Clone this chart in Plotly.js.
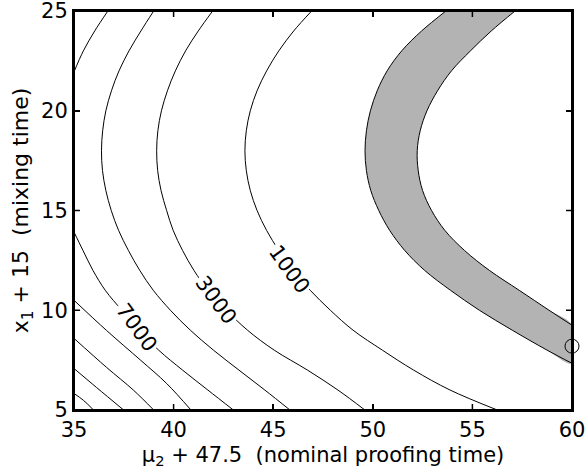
<!DOCTYPE html>
<html>
<head>
<meta charset="utf-8">
<script src="https://cdn.plot.ly/plotly-3.0.1.min.js"></script>
<style>
  html, body { margin: 0; padding: 0; background: #ffffff; }
  #chart { width: 586px; height: 475px; }
</style>
</head>
<body>
<div id="chart"></div>
<script>
// ---- data ----
const xTicks = [35, 40, 45, 50, 55, 60];
const yTicks = [5, 10, 15, 20, 25];
const xRange = [35, 60];
const yRange = [5, 25];

// gray band: left (outer) and right (inner) boundaries
const bandOutY = [25, 24, 23, 22, 21, 20, 19, 18, 17, 16, 15, 14, 13, 12, 11, 10, 9, 8, 7.34];
const bandOutX = [53.67, 52.45, 51.45, 50.72, 50.22, 49.88, 49.68, 49.61, 49.68, 49.90, 50.30, 50.85, 51.60, 52.60, 53.90, 55.35, 57.00, 58.75, 60.0];
const bandInY = [25, 24, 23, 22, 21, 20, 19, 18, 17, 16, 15, 14, 13, 12, 11, 10, 9.25];
const bandInX = [57.14, 55.95, 54.90, 53.95, 53.25, 52.72, 52.38, 52.23, 52.28, 52.50, 52.95, 53.62, 54.60, 55.85, 57.35, 58.85, 60.0];

// contour lines
const c1000Y = [25, 24, 23, 22, 21, 20, 19, 18, 17, 16, 15, 14, 13, 12, 11, 10, 9, 8, 7, 6, 5];
const c1000X = [46.93, 46.03, 45.28, 44.67, 44.19, 43.85, 43.65, 43.58, 43.65, 43.85, 44.19, 44.67, 45.28, 46.01, 46.86, 47.87, 49.01, 50.48, 52.05, 53.88, 56.25];
const c3000Y = [25, 24, 23, 22, 21, 20, 19, 18, 17, 16, 15, 14, 13, 12, 11, 10, 9, 8, 7, 6, 5];
const c3000X = [41.96, 41.24, 40.60, 40.09, 39.69, 39.39, 39.21, 39.15, 39.20, 39.37, 39.65, 39.98, 40.45, 41.02, 41.73, 42.65, 43.71, 45.05, 46.72, 48.25, 49.60];
const c5000Y = [25, 24, 23, 22, 21, 20, 19, 18, 17, 16, 15, 14, 13, 12, 11, 10, 9, 8, 7, 6, 5];
const c5000X = [39.00, 38.36, 37.76, 37.26, 36.88, 36.60, 36.44, 36.38, 36.43, 36.60, 36.87, 37.24, 37.73, 38.30, 38.98, 39.84, 40.84, 42.00, 43.28, 44.58, 45.84];
const c7000UpY = [21.95, 23, 24, 25];
const c7000UpX = [35.00, 35.47, 36.04, 36.70];
const c7000LoY = [13.92, 13, 12, 11, 10, 9, 8, 7, 6, 5];
const c7000LoX = [35.00, 35.45, 35.95, 36.57, 37.40, 38.27, 39.25, 40.45, 41.72, 43.00];
const c9000Y = [10.50, 8.99, 7.49, 6.33, 5.0];
const c9000X = [35.00, 36.63, 38.35, 39.65, 40.87];
const c11000Y = [8.59, 7.14, 5.99, 5.0];
const c11000X = [35.00, 36.63, 37.99, 39.00];
const c13000Y = [7.08, 6.13, 5.0];
const c13000X = [35.00, 36.13, 37.49];
const c15000Y = [5.83, 5.48, 5.0];
const c15000X = [35.00, 35.48, 35.98];

// marked point
const pointX = [60.0];
const pointY = [8.2];

// contour labels
const labelText = ['1000', '3000', '7000'];
const labelX = [45.80, 42.12, 38.12];
const labelY = [12.08, 10.5, 9.15];

// ---- build chart ----
const FONT = 'DejaVu Sans';
const W = 586, H = 475;
const M = { l: 74, r: 14, t: 11, b: 65 };
const TL = 6; // tick length in pixels
const lineStyle = { color: '#000000', width: 1, shape: 'spline', smoothing: 1 };

function contourTrace(xs, ys) {
  return { x: xs, y: ys, type: 'scatter', mode: 'lines', line: lineStyle, hoverinfo: 'skip', showlegend: false };
}

// frame and inward ticks on all four sides, drawn as line traces
const dX = TL * (xRange[1] - xRange[0]) / (W - M.l - M.r);
const dY = TL * (yRange[1] - yRange[0]) / (H - M.t - M.b);
const frameX = [xRange[0], xRange[1], xRange[1], xRange[0], xRange[0]];
const frameY = [yRange[1], yRange[1], yRange[0], yRange[0], yRange[1]];
const tickX = [], tickY = [];
xTicks.forEach(v => {
  tickX.push(v, v, null, v, v, null);
  tickY.push(yRange[0], yRange[0] + dY, null, yRange[1], yRange[1] - dY, null);
});
yTicks.forEach(v => {
  tickX.push(xRange[0], xRange[0] + dX, null, xRange[1], xRange[1] - dX, null);
  tickY.push(v, v, null, v, v, null);
});

const traces = [
  {
    x: bandOutX.concat(bandInX.slice().reverse()),
    y: bandOutY.concat(bandInY.slice().reverse()),
    type: 'scatter', mode: 'lines', fill: 'toself', fillcolor: '#b3b3b3',
    line: { color: 'rgba(0,0,0,0)', width: 0, shape: 'spline', smoothing: 1 },
    hoverinfo: 'skip', showlegend: false
  },
  contourTrace(bandOutX, bandOutY),
  contourTrace(bandInX, bandInY),
  contourTrace(c1000X, c1000Y),
  contourTrace(c3000X, c3000Y),
  contourTrace(c5000X, c5000Y),
  contourTrace(c7000UpX, c7000UpY),
  contourTrace(c7000LoX, c7000LoY),
  contourTrace(c9000X, c9000Y),
  contourTrace(c11000X, c11000Y),
  contourTrace(c13000X, c13000Y),
  contourTrace(c15000X, c15000Y),
  {
    x: frameX, y: frameY, type: 'scatter', mode: 'lines',
    line: { color: '#000000', width: 2 }, cliponaxis: false,
    hoverinfo: 'skip', showlegend: false
  },
  {
    x: tickX, y: tickY, type: 'scatter', mode: 'lines', connectgaps: false,
    line: { color: '#000000', width: 1.5 }, cliponaxis: false,
    hoverinfo: 'skip', showlegend: false
  },
  {
    x: pointX, y: pointY, type: 'scatter', mode: 'markers',
    marker: { symbol: 'circle-open', size: 14, color: '#000000', line: { width: 1, color: '#000000' } },
    cliponaxis: false, hoverinfo: 'skip', showlegend: false
  }
];

const annotations = labelText.map((t, i) => ({
  x: labelX[i], y: labelY[i], xref: 'x', yref: 'y',
  text: t, showarrow: false, textangle: 54,
  font: { family: FONT, size: 21, color: '#000000' },
  bgcolor: '#ffffff', borderpad: 1
}));

const axisCommon = {
  showline: true, linecolor: '#000000', linewidth: 2, mirror: 'ticks',
  ticks: 'inside', ticklen: TL, tickwidth: 1.5, tickcolor: '#000000',
  showgrid: false, zeroline: false,
  ticklabeloverflow: 'allow',
  tickfont: { family: FONT, size: 21, color: '#000000' }
};

const layout = {
  width: W, height: H,
  margin: M,
  paper_bgcolor: '#ffffff', plot_bgcolor: '#ffffff',
  showlegend: false,
  xaxis: Object.assign({}, axisCommon, {
    range: xRange, tickvals: xTicks, ticktext: xTicks.map(String),
    title: { text: 'μ<sub>2</sub> + 47.5\u00a0\u00a0(nominal proofing time)', font: { family: FONT, size: 21, color: '#000000' }, standoff: 6 }
  }),
  yaxis: Object.assign({}, axisCommon, {
    range: yRange, tickvals: yTicks, ticktext: yTicks.map(String),
    title: { text: 'x<sub>1</sub> + 15\u00a0\u00a0(mixing time)', font: { family: FONT, size: 22, color: '#000000' }, standoff: 6 }
  }),
  annotations: annotations
};

Plotly.newPlot('chart', traces, layout, { displayModeBar: false, staticPlot: true });
</script>
</body>
</html>
